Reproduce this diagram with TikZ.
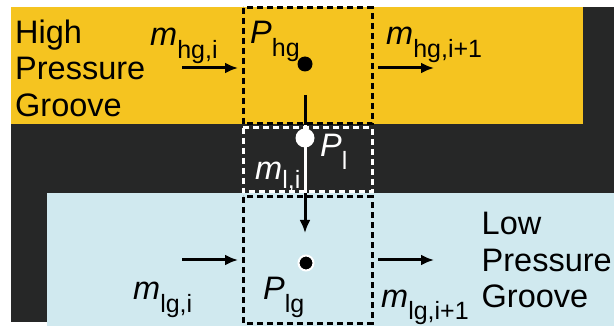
\documentclass[tikz,border=0pt]{standalone}
\usepackage{fontspec}
\setmainfont{Liberation Sans}
\usetikzlibrary{arrows.meta}
\definecolor{yel}{RGB}{245,196,32}
\definecolor{drk}{RGB}{38,39,39}
\definecolor{lblue}{RGB}{208,233,239}
\newcommand{\msub}[2]{\textit{#1}\raisebox{-13pt}{\fontsize{25}{25}\selectfont #2}}
\begin{document}
\begin{tikzpicture}[x=1pt,y=-1pt,
  lbl/.style={anchor=base west, inner sep=0pt, font=\fontsize{32.5}{38}\selectfont},
  dbox/.style={dash pattern=on 6pt off 4pt, line width=3pt},
  flow/.style={line width=3pt, -{Latex[length=13pt,width=11pt]}},
  wire/.style={line width=3pt},
]
\useasboundingbox (0,0) rectangle (614,326);
\fill[white] (0,0) rectangle (614,326);
\fill[drk] (11,7) rectangle (614,322);
\fill[yel] (11,7) rectangle (583,124);
\fill[lblue] (47,193) rectangle (614,326);

% dashed control volumes
\draw[dbox,black] (243,8) rectangle (372,124);
\draw[dbox,white] (243,128) rectangle (372,192);
\draw[dbox,black] (243,197) rectangle (372,323);

% vertical connection
\coordinate (s1) at (305,95);
\coordinate (j1) at (305,125);
\coordinate (j2) at (305,193);
\coordinate (aend) at (305,233);
\draw[wire,black] (s1) -- (j1);
\draw[wire,white] (j1) -- (j2);
\draw[flow,black] (j2) -- (aend);

% pressure points
\node[circle, fill=black, minimum size=15pt, inner sep=0pt] (phg) at (305,64) {};
\node[circle, fill=white, minimum size=19pt, inner sep=0pt] (pl) at (305,138) {};
\node[circle, fill=black, draw=white, line width=2pt, minimum size=15pt, inner sep=0pt] (plg) at (306,263) {};

% horizontal flows
\coordinate (a1s) at (182,68);  \coordinate (a1e) at (238,68);
\coordinate (a2s) at (378,68);  \coordinate (a2e) at (434,68);
\coordinate (a3s) at (182,260); \coordinate (a3e) at (238,260);
\coordinate (a4s) at (378,260); \coordinate (a4e) at (434,260);
\draw[flow] (a1s) -- (a1e);
\draw[flow] (a2s) -- (a2e);
\draw[flow] (a3s) -- (a3e);
\draw[flow] (a4s) -- (a4e);

% groove labels
\node[lbl] (h1) at (15,44) {High};
\node[lbl] (h2) at (15,80) {Pressure};
\node[lbl] (h3) at (15,116.5) {Groove};
\node[lbl] (l1) at (481.5,235) {Low};
\node[lbl] (l2) at (481.5,271.5) {Pressure};
\node[lbl] (l3) at (481.5,307.5) {Groove};

% variable labels
\node[lbl] (mhgi) at (150,46) {\msub{m}{hg,i}};
\node[lbl] (Phg) at (250,44) {\msub{P}{hg}};
\node[lbl] (mhgi1) at (386,45) {\msub{m}{hg,i+1}};
\node[lbl, text=white] (Pl) at (320,157) {\msub{P}{l}};
\node[lbl, text=white] (mli) at (255,180) {\textit{m}\raisebox{-9pt}{\fontsize{25}{25}\selectfont l,i}};
\node[lbl] (Plg) at (263,300) {\msub{P}{lg}};
\node[lbl] (mlgi) at (133,300) {\msub{m}{lg,i}};
\node[lbl] (mlgi1) at (381,307) {\msub{m}{lg,i+1}};
\end{tikzpicture}
\end{document}
